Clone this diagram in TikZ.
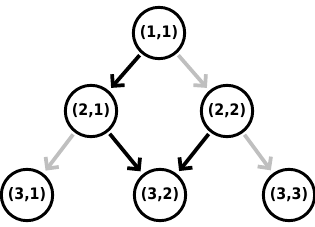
\documentclass[tikz,border=0pt]{standalone}
\usepackage{fontspec}
\setmainfont{DejaVu Sans Condensed}
\usetikzlibrary{arrows.meta}

\begin{document}
\begin{tikzpicture}[x=0.03cm,y=-0.03cm,>={Straight Barb[angle=90:10pt]},
    cell/.style={draw,circle,line width=2.5pt,minimum size=1.54cm,inner sep=0pt,font=\fontsize{13.5}{15}\selectfont\bfseries},
    taken/.style={->,line width=3.2pt,black,shorten <=2pt,shorten >=3pt},
    other/.style={->,line width=3.2pt,black!25,shorten <=2pt,shorten >=3pt}]
    \useasboundingbox (0,0) rectangle (315,226);
    \node [cell] (n11) at (159,33) {(1,1)};
    \node [cell] (n21) at (91,111) {(2,1)};
    \node [cell] (n22) at (227,111) {(2,2)};
    \node [cell] (n31) at (27,195) {(3,1)};
    \node [cell] (n32) at (160,195) {(3,2)};
    \node [cell] (n33) at (289,195) {(3,3)};
    \draw [taken] (n11) -- (n21);
    \draw [other] (n11) -- (n22);
    \draw [other] (n21) -- (n31);
    \draw [taken] (n21) -- (n32);
    \draw [taken] (n22) -- (n32);
    \draw [other] (n22) -- (n33);
\end{tikzpicture}
\end{document}
